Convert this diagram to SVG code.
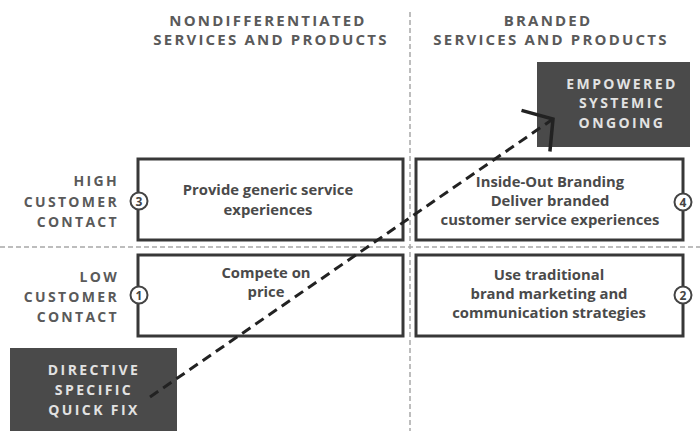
<svg xmlns="http://www.w3.org/2000/svg" width="700" height="431" viewBox="0 0 700 431">
  <style>
    .hdr { font-family: "Open Sans", "Noto Sans", sans-serif; font-weight: 700; font-size: 15px; fill: #5a5a5a; letter-spacing: 2.2px; text-anchor: middle; }
    .axis { font-family: "Open Sans", "Noto Sans", sans-serif; font-weight: 700; font-size: 14px; fill: #5a5a5a; letter-spacing: 2.3px; text-anchor: end; }
    .cell { fill: #ffffff; stroke: #383838; stroke-width: 3; }
    .body { font-family: "Open Sans", "Noto Sans", sans-serif; font-weight: 700; font-size: 14.8px; fill: #4a4a4a; text-anchor: middle; }
    .num { fill: #ffffff; stroke: #444; stroke-width: 2; }
    .numtxt { font-family: "Open Sans", "Noto Sans", sans-serif; font-weight: 700; font-size: 12px; fill: #444; text-anchor: middle; }
    .dark { fill: #4a4a4a; }
    .darktxt { font-family: "Open Sans", "Noto Sans", sans-serif; font-weight: 700; font-size: 14px; fill: #e2e2e2; letter-spacing: 2.4px; text-anchor: middle; }
    .divider { stroke: #a8a8a8; stroke-width: 1.5; stroke-dasharray: 5 3; fill: none; }
    .path { stroke: #222; stroke-width: 3; stroke-dasharray: 10 6; fill: none; }
  </style>
  <defs>
    <marker id="openHead" markerUnits="userSpaceOnUse" viewBox="-26 -30 30 60" refX="0" refY="0" markerWidth="30" markerHeight="60" orient="auto" overflow="visible">
      <path d="M-21,-25 L0,0 L-21,25" fill="none" stroke="#222" stroke-width="3.5"/>
    </marker>
  </defs>

  <rect width="700" height="431" fill="#ffffff"/>

  <!-- quadrant dividers -->
  <g id="dividers">
    <line class="divider" x1="410" y1="12" x2="410" y2="431"/>
    <line class="divider" x1="0" y1="247" x2="700" y2="247"/>
  </g>

  <!-- column headers -->
  <g id="header-nondiff">
    <text class="hdr" x="268" y="26">NONDIFFERENTIATED</text>
    <text class="hdr" x="271" y="45">SERVICES AND PRODUCTS</text>
  </g>
  <g id="header-branded">
    <text class="hdr" x="548" y="26">BRANDED</text>
    <text class="hdr" x="551" y="45">SERVICES AND PRODUCTS</text>
  </g>

  <!-- row labels -->
  <g id="label-high">
    <text class="axis" x="119" y="186">HIGH</text>
    <text class="axis" x="119" y="207">CUSTOMER</text>
    <text class="axis" x="119" y="227">CONTACT</text>
  </g>
  <g id="label-low">
    <text class="axis" x="119" y="282">LOW</text>
    <text class="axis" x="119" y="302">CUSTOMER</text>
    <text class="axis" x="119" y="322">CONTACT</text>
  </g>

  <!-- quadrant 3 -->
  <g id="q3">
    <rect class="cell" x="138" y="159" width="265" height="81"/>
    <text class="body" x="268" y="195">Provide generic service</text>
    <text class="body" x="268" y="215">experiences</text>
    <circle class="num" cx="139" cy="201" r="8.5"/>
    <text class="numtxt" x="139" y="205.5">3</text>
  </g>

  <!-- quadrant 4 -->
  <g id="q4">
    <rect class="cell" x="416" y="159" width="267" height="81"/>
    <text class="body" x="550" y="187">Inside-Out Branding</text>
    <text class="body" x="550" y="206">Deliver branded</text>
    <text class="body" x="550" y="225">customer service experiences</text>
    <circle class="num" cx="683" cy="202" r="8.5"/>
    <text class="numtxt" x="683" y="206.5">4</text>
  </g>

  <!-- quadrant 1 -->
  <g id="q1">
    <rect class="cell" x="138" y="255" width="265" height="81"/>
    <text class="body" x="266" y="278">Compete on</text>
    <text class="body" x="266" y="297">price</text>
    <circle class="num" cx="139" cy="295" r="8.5"/>
    <text class="numtxt" x="139" y="299.5">1</text>
  </g>

  <!-- quadrant 2 -->
  <g id="q2">
    <rect class="cell" x="416" y="255" width="267" height="81"/>
    <text class="body" x="549" y="280">Use traditional</text>
    <text class="body" x="549" y="299">brand marketing and</text>
    <text class="body" x="549" y="318">communication strategies</text>
    <circle class="num" cx="683" cy="295" r="8.5"/>
    <text class="numtxt" x="683" y="299.5">2</text>
  </g>

  <!-- end-point blocks -->
  <g id="directive">
    <rect class="dark" x="10" y="348" width="167" height="83"/>
    <text class="darktxt" x="94" y="375">DIRECTIVE</text>
    <text class="darktxt" x="94" y="395">SPECIFIC</text>
    <text class="darktxt" x="94" y="415">QUICK FIX</text>
  </g>
  <g id="empowered">
    <rect class="dark" x="537" y="62" width="153" height="85"/>
    <text class="darktxt" x="622" y="89">EMPOWERED</text>
    <text class="darktxt" x="622" y="108">SYSTEMIC</text>
    <text class="darktxt" x="622" y="128">ONGOING</text>
  </g>

  <!-- transition arrow -->
  <g id="connectors">
    <line class="path" x1="150" y1="397" x2="553" y2="119" marker-end="url(#openHead)"/>
  </g>
</svg>
